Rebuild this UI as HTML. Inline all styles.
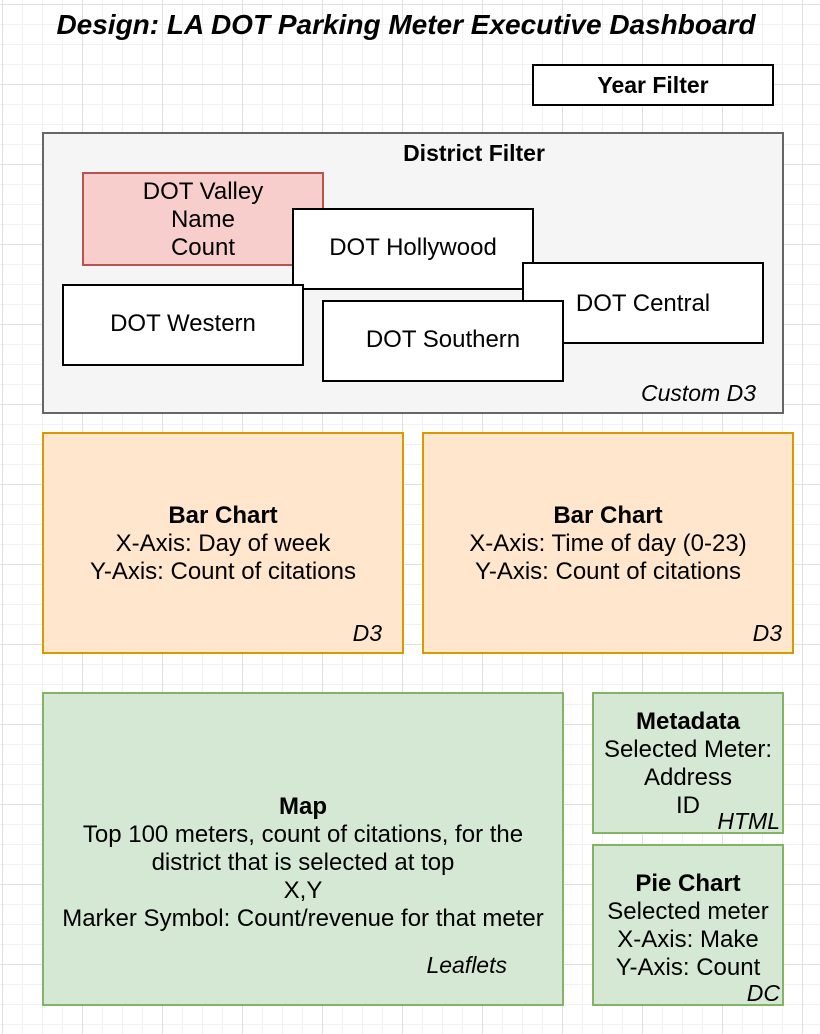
<!DOCTYPE html>
<html><head><meta charset="utf-8"><style>
body{margin:0;width:820px;height:1034px;position:relative;overflow:hidden;font-family:"Liberation Sans",Arial,sans-serif;color:#000;
background-color:#fff;
background-image:linear-gradient(#e0e0e0 1px,transparent 1px),linear-gradient(90deg,#e0e0e0 1px,transparent 1px),linear-gradient(#f1f1f1 1px,transparent 1px),linear-gradient(90deg,#f1f1f1 1px,transparent 1px);
background-size:80px 80px,80px 80px,20px 20px,20px 20px;background-position:2px 4px,2px 4px,2px 4px,2px 4px;}
.b{position:absolute;box-sizing:border-box;display:flex;flex-direction:column;align-items:center;justify-content:center;text-align:center;font-size:24px;line-height:28px}
.w{background:#fff;border:2px solid #000}
.tag{position:absolute;font-style:italic;font-size:23px;line-height:28px;text-align:right}
</style></head><body>
<div style="position:absolute;left:0;width:812px;top:8px;text-align:center;font-size:28px;line-height:34px;font-weight:bold;font-style:italic">Design: LA DOT Parking Meter Executive Dashboard</div>
<div class="b w" style="left:532px;top:64px;width:242px;height:42px;font-weight:bold;font-size:23px">Year Filter</div>
<div class="b" style="left:42px;top:132px;width:742px;height:282px;background:#f5f5f5;border:2px solid #666"></div>
<div style="position:absolute;left:374px;width:200px;top:139px;text-align:center;font-weight:bold;font-size:23px;line-height:28px">District Filter</div>
<div class="tag" style="right:64px;top:379px">Custom D3</div>
<div class="b" style="left:82px;top:172px;width:242px;height:94px;background:#f8cecc;border:2px solid #b85450;padding-top:1px">DOT Valley<br>Name<br>Count</div>
<div class="b w" style="left:292px;top:208px;width:242px;height:82px;padding-bottom:2px">DOT Hollywood</div>
<div class="b w" style="left:522px;top:262px;width:242px;height:82px;justify-content:flex-start;padding-top:26px">DOT Central</div>
<div class="b w" style="left:62px;top:284px;width:242px;height:82px;padding-bottom:2px">DOT Western</div>
<div class="b w" style="left:322px;top:300px;width:242px;height:82px;padding-bottom:2px">DOT Southern</div>
<div class="b" style="left:42px;top:432px;width:362px;height:222px;background:#ffe6cc;border:2px solid #d79b00;padding-top:1px"><b>Bar Chart</b>X-Axis: Day of week<br>Y-Axis: Count of citations</div>
<div class="tag" style="right:438px;top:619px">D3</div>
<div class="b" style="left:422px;top:432px;width:372px;height:222px;background:#ffe6cc;border:2px solid #d79b00;padding-top:1px"><b>Bar Chart</b>X-Axis: Time of day (0-23)<br>Y-Axis: Count of citations</div>
<div class="tag" style="right:38px;top:619px">D3</div>
<div class="b" style="left:42px;top:692px;width:522px;height:314px;background:#d5e8d4;border:2px solid #82b366;padding-top:28px"><b>Map</b>Top 100 meters, count of citations, for the<br>district that is selected at top<br>X,Y<br>Marker Symbol: Count/revenue for that meter</div>
<div class="tag" style="right:313px;top:951px">Leaflets</div>
<div class="b" style="left:592px;top:692px;width:192px;height:142px;background:#d5e8d4;border:2px solid #82b366;padding-top:1px"><b>Metadata</b>Selected Meter:<br>Address<br>ID</div>
<div class="tag" style="right:40px;top:807px">HTML</div>
<div class="b" style="left:592px;top:844px;width:192px;height:162px;background:#d5e8d4;border:2px solid #82b366;padding-top:1px"><b>Pie Chart</b>Selected meter<br>X-Axis: Make<br>Y-Axis: Count</div>
<div class="tag" style="right:40px;top:979px">DC</div>
</body></html>
